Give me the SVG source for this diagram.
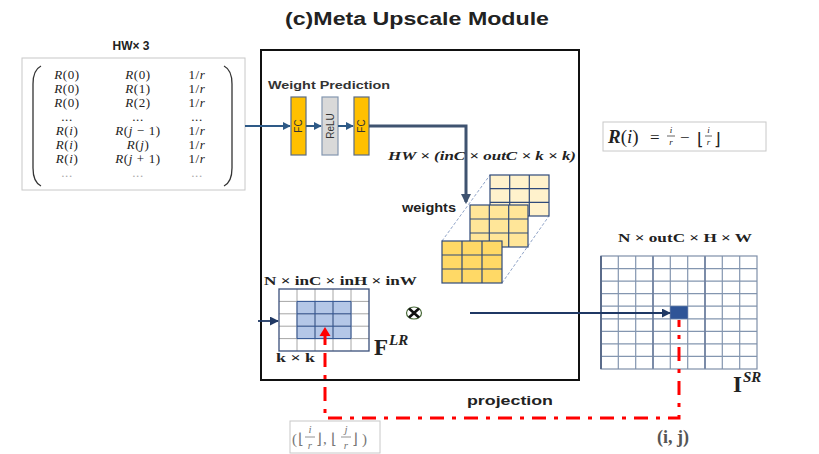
<svg xmlns="http://www.w3.org/2000/svg" width="819" height="454" viewBox="0 0 819 454">
<defs>
<marker id="ah" viewBox="0 0 10 10" refX="9" refY="5" markerWidth="4" markerHeight="4" orient="auto" markerUnits="strokeWidth"><path d="M0,0 L10,5 L0,10 z" fill="#2E5A87"/></marker>
<marker id="ahn" viewBox="0 0 10 10" refX="9" refY="5" markerWidth="5" markerHeight="5" orient="auto" markerUnits="strokeWidth"><path d="M0,0 L10,5 L0,10 z" fill="#1F3864"/></marker>
<marker id="ahg" viewBox="0 0 10 10" refX="8" refY="5" markerWidth="3.5" markerHeight="3.5" orient="auto" markerUnits="strokeWidth"><path d="M0,0 L10,5 L0,10 z" fill="#3F5370"/></marker>
</defs>
<style>
.sans{font-family:"Liberation Sans",Arial,sans-serif}
.serif{font-family:"Liberation Serif","Times New Roman",serif}
.mi{font-family:"Liberation Serif","Times New Roman",serif;font-size:13px;fill:#222;letter-spacing:0.6px}
.i{font-style:italic}
.lab{font-family:"Liberation Serif","Times New Roman",serif;font-weight:bold;font-size:12px;fill:#222}
.wc{stroke:#2F4A7A;stroke-width:1.2}
.gl{stroke:#A6A6A6;stroke-width:1}
.red{stroke:#FF0000;stroke-width:3;fill:none;stroke-dasharray:14 8 4 8}
.frac{stroke:#777;stroke-width:0.8}
</style>
<rect width="819" height="454" fill="#fff"/>

<text x="417" y="25" text-anchor="middle" class="sans" font-size="18" font-weight="bold" fill="#222" textLength="264" lengthAdjust="spacingAndGlyphs">(c)Meta Upscale Module</text>

<g id="input-matrix">
<text x="131" y="50" text-anchor="middle" class="sans" font-size="12" font-weight="bold" fill="#222">HW× 3</text>
<rect x="22" y="58" width="223" height="132" fill="#fff" stroke="#C8C8C8" stroke-width="1"/>
<path d="M41,66 Q33,70 33,84 L33,168 Q33,182 41,186" fill="none" stroke="#333" stroke-width="1.3"/>
<path d="M224,66 Q232,70 232,84 L232,168 Q232,182 224,186" fill="none" stroke="#333" stroke-width="1.3"/>
<g class="mi" text-anchor="middle">
<text x="67" y="79"><tspan class="i">R</tspan>(0)</text><text x="138" y="79"><tspan class="i">R</tspan>(0)</text><text x="197" y="79">1/<tspan class="i">r</tspan></text>
<text x="67" y="93"><tspan class="i">R</tspan>(0)</text><text x="138" y="93"><tspan class="i">R</tspan>(1)</text><text x="197" y="93">1/<tspan class="i">r</tspan></text>
<text x="67" y="107"><tspan class="i">R</tspan>(0)</text><text x="138" y="107"><tspan class="i">R</tspan>(2)</text><text x="197" y="107">1/<tspan class="i">r</tspan></text>
<text x="67" y="121">...</text><text x="138" y="121">...</text><text x="197" y="121">...</text>
<text x="67" y="135"><tspan class="i">R</tspan>(<tspan class="i">i</tspan>)</text><text x="138" y="135"><tspan class="i">R</tspan>(<tspan class="i">j</tspan> − 1)</text><text x="197" y="135">1/<tspan class="i">r</tspan></text>
<text x="67" y="149"><tspan class="i">R</tspan>(<tspan class="i">i</tspan>)</text><text x="138" y="149"><tspan class="i">R</tspan>(<tspan class="i">j</tspan>)</text><text x="197" y="149">1/<tspan class="i">r</tspan></text>
<text x="67" y="163"><tspan class="i">R</tspan>(<tspan class="i">i</tspan>)</text><text x="138" y="163"><tspan class="i">R</tspan>(<tspan class="i">j</tspan> + 1)</text><text x="197" y="163">1/<tspan class="i">r</tspan></text>
<text x="67" y="177" fill="#aaa">...</text><text x="138" y="177" fill="#aaa">...</text><text x="197" y="177" fill="#aaa">...</text>
</g>
</g>

<g id="meta-module">
<rect x="261" y="50" width="318" height="330" fill="none" stroke="#111" stroke-width="2"/>
<text x="268" y="89" class="sans" font-size="10" font-weight="bold" fill="#333" textLength="122" lengthAdjust="spacingAndGlyphs">Weight Prediction</text>
</g>

<g id="fc1">
<rect x="291" y="97" width="15" height="58" fill="#FFC000" stroke="#5A6B85" stroke-width="1.2"/>
<text transform="translate(302,126) rotate(-90)" text-anchor="middle" class="sans" font-size="10" fill="#333">FC</text>
</g>
<g id="relu">
<rect x="322" y="97" width="16" height="58" fill="#D9D9D9" stroke="#8497B0" stroke-width="1.2"/>
<text transform="translate(334,126) rotate(-90)" text-anchor="middle" class="sans" font-size="10" fill="#333">ReLU</text>
</g>
<g id="fc2">
<rect x="354" y="97" width="15" height="58" fill="#FFC000" stroke="#5A6B85" stroke-width="1.2"/>
<text transform="translate(365,126) rotate(-90)" text-anchor="middle" class="sans" font-size="10" fill="#333">FC</text>
</g>

<text x="388" y="160" class="serif" font-size="12" font-weight="bold" font-style="italic" fill="#222" textLength="188" lengthAdjust="spacingAndGlyphs">HW × (inC  × outC  × k × k)</text>

<g id="weights">
<line x1="442" y1="241" x2="490" y2="175" stroke="#8FA3C7" stroke-width="1" stroke-dasharray="3 2"/>
<line x1="502" y1="283" x2="549" y2="216" stroke="#8FA3C7" stroke-width="1" stroke-dasharray="3 2"/>
<rect x="490" y="175" width="59" height="41" fill="#FFF2CC" stroke="#2F4A7A" stroke-width="1.2"/>
<path class="wc" d="M509.7,175V216M529.3,175V216M490,188.7H549M490,202.3H549"/>
<rect x="470" y="205" width="58" height="42" fill="#FFE699" stroke="#2F4A7A" stroke-width="1.2"/>
<path class="wc" d="M489.3,205V247M508.7,205V247M470,219H528M470,233H528"/>
<rect x="442" y="241" width="60" height="42" fill="#FFD966" stroke="#2F4A7A" stroke-width="1.2"/>
<path class="wc" d="M462,241V283M482,241V283M442,255H502M442,269H502"/>
<text x="402" y="212" class="sans" font-size="12" font-weight="bold" fill="#222" textLength="54" lengthAdjust="spacingAndGlyphs">weights</text>
</g>

<g id="feature-lr">
<text x="264" y="285" class="lab" textLength="153" lengthAdjust="spacingAndGlyphs">N × inC  × inH × inW</text>
<rect x="279" y="289" width="90" height="62" fill="#fff"/>
<rect x="297" y="301.4" width="54" height="37.2" fill="#B4C7E7"/>
<path class="gl" d="M297,289V351M315,289V351M333,289V351M351,289V351M279,301.4H369M279,313.8H369M279,326.2H369M279,338.6H369"/>
<path d="M297,301.4H351V338.6H297Z M315,301.4V338.6M333,301.4V338.6M297,313.8H351M297,326.2H351" fill="none" stroke="#2F5597" stroke-width="1"/>
<rect x="279" y="289" width="90" height="62" fill="none" stroke="#3A4F7A" stroke-width="1.3"/>
<text x="276" y="362" class="lab" textLength="39" lengthAdjust="spacingAndGlyphs">k × k</text>
<text x="374" y="355" class="serif" font-size="23" font-weight="bold" fill="#222">F</text>
<text x="389" y="345" class="serif" font-size="15" font-weight="bold" font-style="italic" fill="#222">LR</text>
</g>

<g id="multiply">
<ellipse cx="414" cy="313" rx="7.5" ry="6" fill="#fff" stroke="#4A6B3A" stroke-width="1.2"/>
<path d="M409,308.5L419,317.5M419,308.5L409,317.5" stroke="#111" stroke-width="2.6"/>
</g>

<g id="output-sr">
<text x="618" y="242" class="lab" textLength="134" lengthAdjust="spacingAndGlyphs">N × outC  × H × W</text>
<rect x="601" y="256" width="156" height="113" fill="#fff"/>
<path d="M618.3,256V369M635.7,256V369M653,256V369M670.3,256V369M687.7,256V369M705,256V369M722.3,256V369M739.7,256V369M601,268.6H757M601,281.1H757M601,293.7H757M601,306.2H757M601,318.8H757M601,331.3H757M601,343.9H757M601,356.4H757" stroke="#8496B0" stroke-width="1.2" fill="none"/>
<path d="M653,256V369M705,256V369" stroke="#6E7F9E" stroke-width="1.6"/>
<rect x="601" y="256" width="156" height="113" fill="none" stroke="#7F8FA9" stroke-width="1.2"/>
<line x1="601" y1="256" x2="601" y2="369" stroke="#5A6B8A" stroke-width="2"/>
<rect x="670.3" y="306.2" width="17.4" height="12.6" fill="#2F5597"/>
<text x="733" y="392" class="serif" font-size="23" font-weight="bold" fill="#222">I</text>
<text x="743" y="382" class="serif" font-size="15" font-weight="bold" font-style="italic" fill="#222">SR</text>
</g>

<g id="r-formula">
<rect x="603" y="122" width="163" height="29" fill="#fff" stroke="#C8C8C8" stroke-width="1"/>
<text x="608" y="143" class="serif" font-size="19" fill="#222"><tspan font-style="italic" font-weight="bold">R</tspan>(<tspan font-style="italic">i</tspan>)</text>
<text x="650" y="143" class="serif" font-size="17" fill="#222">=</text>
<text x="671" y="133" text-anchor="middle" class="serif" font-size="9" font-style="italic" fill="#222">i</text>
<line x1="667" y1="136" x2="675" y2="136" stroke="#222" stroke-width="0.7"/>
<text x="671" y="145" text-anchor="middle" class="serif" font-size="9" font-style="italic" fill="#222">r</text>
<text x="680" y="143" class="serif" font-size="17" fill="#222">−</text>
<text x="697" y="145" class="serif" font-size="17" fill="#222">⌊</text>
<text x="708.5" y="133" text-anchor="middle" class="serif" font-size="9" font-style="italic" fill="#222">i</text>
<line x1="705" y1="136" x2="712" y2="136" stroke="#222" stroke-width="0.7"/>
<text x="708.5" y="145" text-anchor="middle" class="serif" font-size="9" font-style="italic" fill="#222">r</text>
<text x="714" y="145" class="serif" font-size="17" fill="#222">⌋</text>
</g>

<g id="coord-lr">
<rect x="290" y="421" width="90" height="32" fill="#fff" stroke="#C8C8C8" stroke-width="1"/>
<g class="serif" font-size="15" fill="#777">
<text x="292" y="444">(</text>
<text x="298" y="444">⌊</text>
<text x="310" y="433" font-size="11" font-style="italic" text-anchor="middle">i</text>
<text x="310" y="449" font-size="11" font-style="italic" text-anchor="middle">r</text>
<text x="316" y="444">⌋</text>
<text x="323" y="444">,</text>
<text x="331" y="444">⌊</text>
<text x="346" y="433" font-size="11" font-style="italic" text-anchor="middle">j</text>
<text x="346" y="449" font-size="11" font-style="italic" text-anchor="middle">r</text>
<text x="352" y="444">⌋</text>
<text x="362" y="444">)</text>
</g>
<line x1="305" y1="437" x2="315" y2="437" class="frac"/>
<line x1="341" y1="437" x2="351" y2="437" class="frac"/>
</g>

<g id="coord-hr">
<text x="657" y="443" class="serif" font-size="18" font-weight="bold" fill="#555">(i, j)</text>
</g>

<text x="467" y="405" class="sans" font-size="12" font-weight="bold" fill="#222" textLength="86" lengthAdjust="spacingAndGlyphs">projection</text>

<g id="connectors">
<line x1="245" y1="126" x2="290" y2="126" stroke="#2E5A87" stroke-width="2" marker-end="url(#ah)"/>
<line x1="306" y1="126" x2="321" y2="126" stroke="#2E5A87" stroke-width="2" marker-end="url(#ah)"/>
<line x1="338" y1="126" x2="353" y2="126" stroke="#2E5A87" stroke-width="2" marker-end="url(#ah)"/>
<polyline points="369,126 466,126 466,202" fill="none" stroke="#3F5370" stroke-width="3" marker-end="url(#ahg)"/>
<line x1="258" y1="321" x2="278" y2="321" stroke="#1F3864" stroke-width="1.8" marker-end="url(#ahn)"/>
<line x1="470" y1="313" x2="670" y2="313" stroke="#1F3864" stroke-width="1.8" marker-end="url(#ahn)"/>
<line x1="325" y1="345" x2="325" y2="334" stroke="#FF0000" stroke-width="3"/>
<path d="M319.5,336 L325,327 L330.5,336 Z" fill="#FF0000"/>
<path class="red" d="M325,353 V418 H679 V320"/>
</g>
</svg>
